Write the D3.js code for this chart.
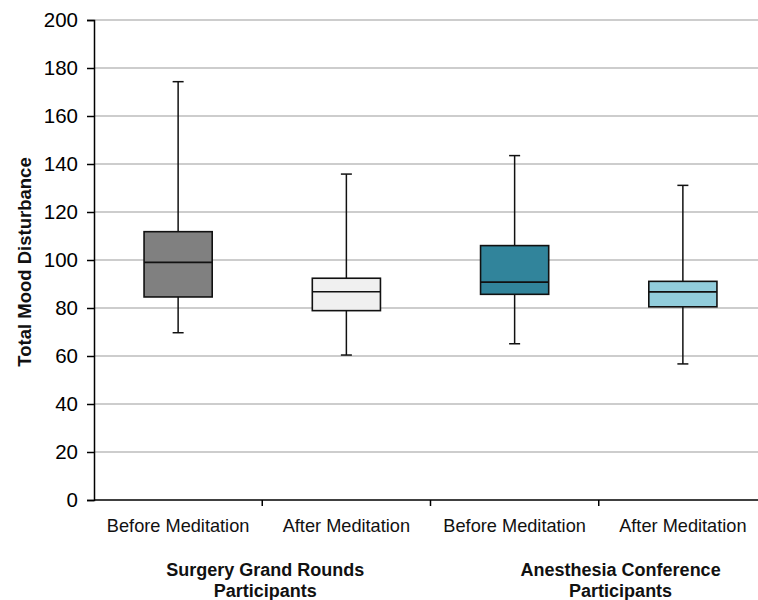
<!DOCTYPE html>
<html><head><meta charset="utf-8">
<script src="https://cdn.jsdelivr.net/npm/d3@7"></script>
<style>body{margin:0;background:#fff}svg{display:block}text{font-family:"Liberation Sans",Arial,Helvetica,sans-serif}</style>
</head><body>
<svg id="c" width="758" height="600"></svg>
<script>
const categories = ["Before Meditation","After Meditation","Before Meditation","After Meditation"];
const groups = ["Surgery Grand Rounds\nParticipants","Anesthesia Conference\nParticipants"];
const whiskerLow  = [69.7, 60.4, 65.1, 56.7];
const q1          = [84.6, 78.9, 85.7, 80.5];
const median      = [99.0, 86.8, 90.8, 86.7];
const q3          = [111.8, 92.4, 106.0, 91.1];
const whiskerHigh = [174.3, 135.8, 143.5, 131.1];
const fills = ["#808080","#f0f0f0","#31849b","#92cddc"];
const yTicks = [0,20,40,60,80,100,120,140,160,180,200];

(function(){
const svg = d3.select("#c");
const mLeft = 94, mRight = 767, mTop = 20, mBottom = 500;
const y = d3.scaleLinear().domain([0,200]).range([mBottom, mTop]);
const x = d3.scaleBand().domain(d3.range(categories.length)).range([mLeft, mRight]).padding(0);
const bw = x.bandwidth()*0.405, cap = 11;

// gridlines
svg.append("g").selectAll("line").data(yTicks.filter(d=>d>0)).join("line")
  .attr("x1", mLeft).attr("x2", 758).attr("y1", d=>y(d)).attr("y2", d=>y(d))
  .attr("stroke", "#bdbdbd").attr("stroke-width", 1.5);

// y axis
const ya = svg.append("g").attr("transform", `translate(${mLeft},0)`)
  .call(d3.axisLeft(y).tickValues(yTicks).tickSize(7).tickPadding(9));
ya.select(".domain").attr("stroke", "#000").attr("stroke-width", 1.5);
ya.selectAll(".tick line").attr("stroke", "#000").attr("stroke-width", 1.5);
ya.selectAll(".tick text").attr("font-size", 20.5).attr("fill", "#000")
  .attr("font-family", "Liberation Sans, Arial, sans-serif");

// x axis
const xb = svg.append("g").attr("transform", `translate(0,${mBottom})`);
xb.append("line").attr("x1", mLeft).attr("x2", 758).attr("y1", 0).attr("y2", 0)
  .attr("stroke", "#000").attr("stroke-width", 1.5);
xb.selectAll("line.t").data(d3.range(1, categories.length)).join("line").attr("class","t")
  .attr("x1", d=>x(d)).attr("x2", d=>x(d)).attr("y1", 0).attr("y2", 6)
  .attr("stroke", "#000").attr("stroke-width", 1.5);
xb.selectAll("text").data(categories).join("text")
  .attr("x", (d,i)=>x(i)+x.bandwidth()/2).attr("y", 31.5)
  .attr("text-anchor", "middle").attr("font-size", 18.2).attr("fill", "#111").text(d=>d);

// group labels
const groupX = [x(1)+3, x(2)+x.bandwidth()*1.13];
groups.forEach((g,i)=>{
  const t = svg.append("text").attr("text-anchor","middle").attr("font-size",18)
    .attr("font-weight","bold").attr("fill","#111");
  g.split("\n").forEach((ln,j)=>t.append("tspan").attr("x", groupX[i]).attr("y", 576 + j*21).text(ln));
});

// y title
svg.append("text").attr("transform", "translate(31,262) rotate(-90)")
  .attr("text-anchor","middle").attr("font-size",18.5).attr("font-weight","bold")
  .attr("fill","#111").text("Total Mood Disturbance");

// boxes
const bx = svg.append("g").selectAll("g").data(categories).join("g")
  .attr("transform", (d,i)=>`translate(${x(i)+x.bandwidth()/2},0)`);
bx.append("line").attr("x1",0).attr("x2",0)
  .attr("y1",(d,i)=>y(whiskerHigh[i])).attr("y2",(d,i)=>y(whiskerLow[i]))
  .attr("stroke","#111").attr("stroke-width",1.5);
[whiskerHigh, whiskerLow].forEach(arr=>{
  bx.append("line").attr("x1",-cap/2).attr("x2",cap/2)
    .attr("y1",(d,i)=>y(arr[i])).attr("y2",(d,i)=>y(arr[i]))
    .attr("stroke","#111").attr("stroke-width",1.5);
});
bx.append("rect").attr("x",-bw/2).attr("width",bw)
  .attr("y",(d,i)=>y(q3[i])).attr("height",(d,i)=>y(q1[i])-y(q3[i]))
  .attr("fill",(d,i)=>fills[i]).attr("stroke","#111").attr("stroke-width",1.6);
bx.append("line").attr("x1",-bw/2).attr("x2",bw/2)
  .attr("y1",(d,i)=>y(median[i])).attr("y2",(d,i)=>y(median[i]))
  .attr("stroke","#111").attr("stroke-width",1.6);
})();
</script>
</body></html>
